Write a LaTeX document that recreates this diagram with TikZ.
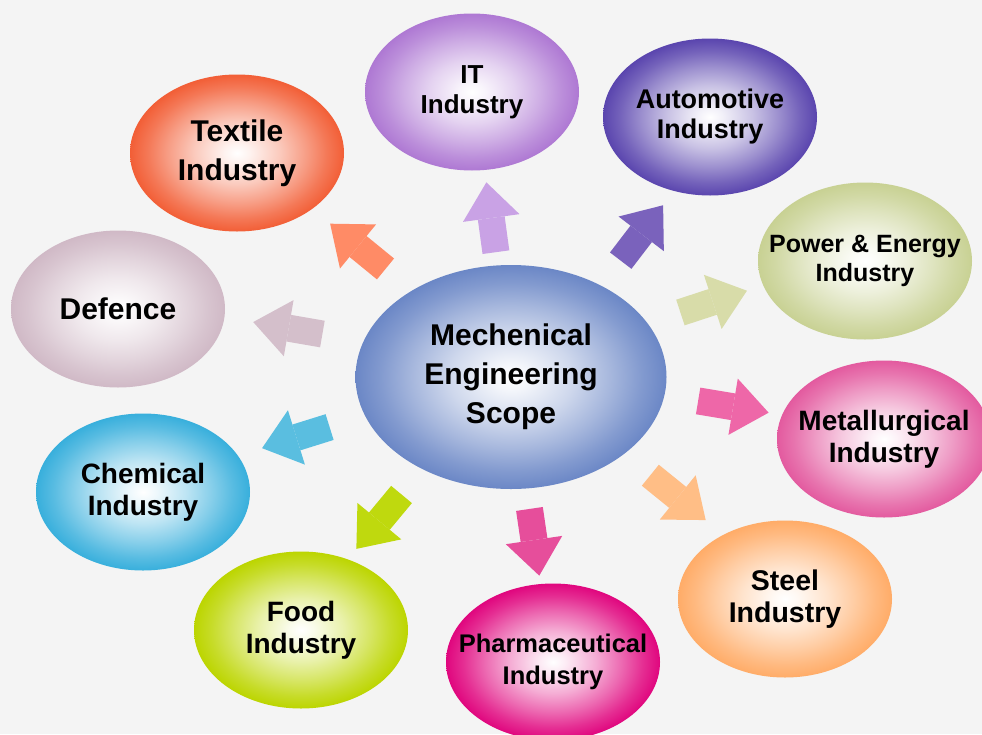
\documentclass[tikz,border=0pt]{standalone}
\usepackage{fontspec}
\setmainfont{Liberation Sans}
\usetikzlibrary{shapes.geometric,arrows.meta,calc}

\definecolor{paper}{HTML}{F4F4F4}
% ellipse edge colours
\definecolor{hubc}{HTML}{6B87C6}
\definecolor{textilec}{HTML}{F25E36}
\definecolor{itc}{HTML}{AE78D3}
\definecolor{autoc}{HTML}{5A45AE}
\definecolor{powerc}{HTML}{C8D193}
\definecolor{metalc}{HTML}{E35A9F}
\definecolor{steelc}{HTML}{FFAC68}
\definecolor{pharmac}{HTML}{E0067E}
\definecolor{foodc}{HTML}{BCD500}
\definecolor{chemc}{HTML}{38AFDC}
\definecolor{defc}{HTML}{D0B9C6}
% arrow colours
\definecolor{textilea}{HTML}{FF8B66}
\definecolor{ita}{HTML}{C9A2E5}
\definecolor{autoa}{HTML}{7A62BC}
\definecolor{powera}{HTML}{D8DCA9}
\definecolor{metala}{HTML}{EE67A8}
\definecolor{steela}{HTML}{FFBE86}
\definecolor{pharmaa}{HTML}{E64E9B}
\definecolor{fooda}{HTML}{BFD90E}
\definecolor{chema}{HTML}{5ABEE0}
\definecolor{defa}{HTML}{D4BFCB}

\colorlet{blobcol}{white}
\pgfdeclareradialshading[blobcol]{blob}{\pgfpoint{0bp}{0bp}}{color(0bp)=(white); color(3bp)=(blobcol!8!white); color(10bp)=(blobcol!33!white); color(16bp)=(blobcol!60!white); color(21bp)=(blobcol!84!white); color(25bp)=(blobcol); color(50bp)=(blobcol)}

\begin{document}
\begin{tikzpicture}[x=1pt,y=-1pt,
		blob color/.code={\colorlet{blobcol}{#1}},
		field node/.style={ellipse,blob color=#1,shade,shading=blob,minimum width=214pt,minimum height=157pt,
			inner xsep=-40pt,inner ysep=0pt,align=center,font=\bfseries\fontsize{28}{32}\selectfont},
		flow arrow/.style={line width=27pt,-{Triangle[length=36pt,width=57pt,line width=0pt]}}]

	\useasboundingbox (0,0) rectangle (982,734);
	\clip (0,0) rectangle (982,734);
	\fill[paper] (0,0) rectangle (982,734);

	\node[field node=hubc,minimum width=311pt,minimum height=224pt,
		font=\bfseries\fontsize{30}{39}\selectfont] (hub) at (511,377) {Mechenical\\Engineering\\Scope};

	\node[field node=textilec,font=\bfseries\fontsize{30}{39}\selectfont] (textile) at (237,153) {Textile\\Industry};
	\node[field node=itc,font=\bfseries\fontsize{26}{30}\selectfont] (it) at (472,92) {IT\\Industry};
	\node[field node=autoc,font=\bfseries\fontsize{27}{30}\selectfont] (auto) at (710,117) {Automotive\\Industry};
	\node[field node=powerc,font=\bfseries\fontsize{25}{29}\selectfont] (power) at (865,261) {Power \& Energy\\Industry};
	\node[field node=metalc] (metal) at (884,439) {Metallurgical\\Industry};
	\node[field node=steelc,font=\bfseries\fontsize{28.5}{32}\selectfont] (steel) at (785,599) {Steel\\Industry};
	\node[field node=pharmac,font=\bfseries\fontsize{25.5}{32}\selectfont] (pharma) at (553,662) {Pharmaceutical\\Industry};
	\node[field node=foodc] (food) at (301,630) {Food\\Industry};
	\node[field node=chemc] (chem) at (143,492) {Chemical\\Industry};
	\node[field node=defc,font=\bfseries\fontsize{30}{36}\selectfont] (defence) at (118,309) {Defence};

	% arrows from the hub out to every field
	\draw[flow arrow,textilea] ($(hub)!0.469!(textile)+(3,-3)$) -- ($(hub)!0.671!(textile)+(3,-3)$);
	\draw[flow arrow,ita] ($(hub)!0.438!(it)+(2,0)$) -- ($(hub)!0.683!(it)+(2,0)$);
	\draw[flow arrow,autoa] ($(hub)!0.486!(auto)+(13,10)$) -- ($(hub)!0.699!(auto)+(13,10)$);
	\draw[flow arrow,powera] ($(hub)!0.487!(power)+(-3,-8)$) -- ($(hub)!0.675!(power)+(-3,-8)$);
	\draw[flow arrow,metala] ($(hub)!0.499!(metal)+(1,-7)$) -- ($(hub)!0.688!(metal)+(1,-7)$);
	\draw[flow arrow,steela] ($(hub)!0.483!(steel)+(7,-9)$) -- ($(hub)!0.685!(steel)+(7,-9)$);
	\draw[flow arrow,pharmaa] ($(hub)!0.463!(pharma)+(-1,0)$) -- ($(hub)!0.697!(pharma)+(-1,0)$);
	\draw[flow arrow,fooda] ($(hub)!0.488!(food)+(-7,-6)$) -- ($(hub)!0.703!(food)+(-7,-6)$);
	\draw[flow arrow,chema] ($(hub)!0.4875!(chem)+(-2,-6)$) -- ($(hub)!0.671!(chem)+(-2,-6)$);
	\draw[flow arrow,defa] ($(hub)!0.485!(defence)+(2,-10)$) -- ($(hub)!0.661!(defence)+(2,-10)$);
\end{tikzpicture}
\end{document}
